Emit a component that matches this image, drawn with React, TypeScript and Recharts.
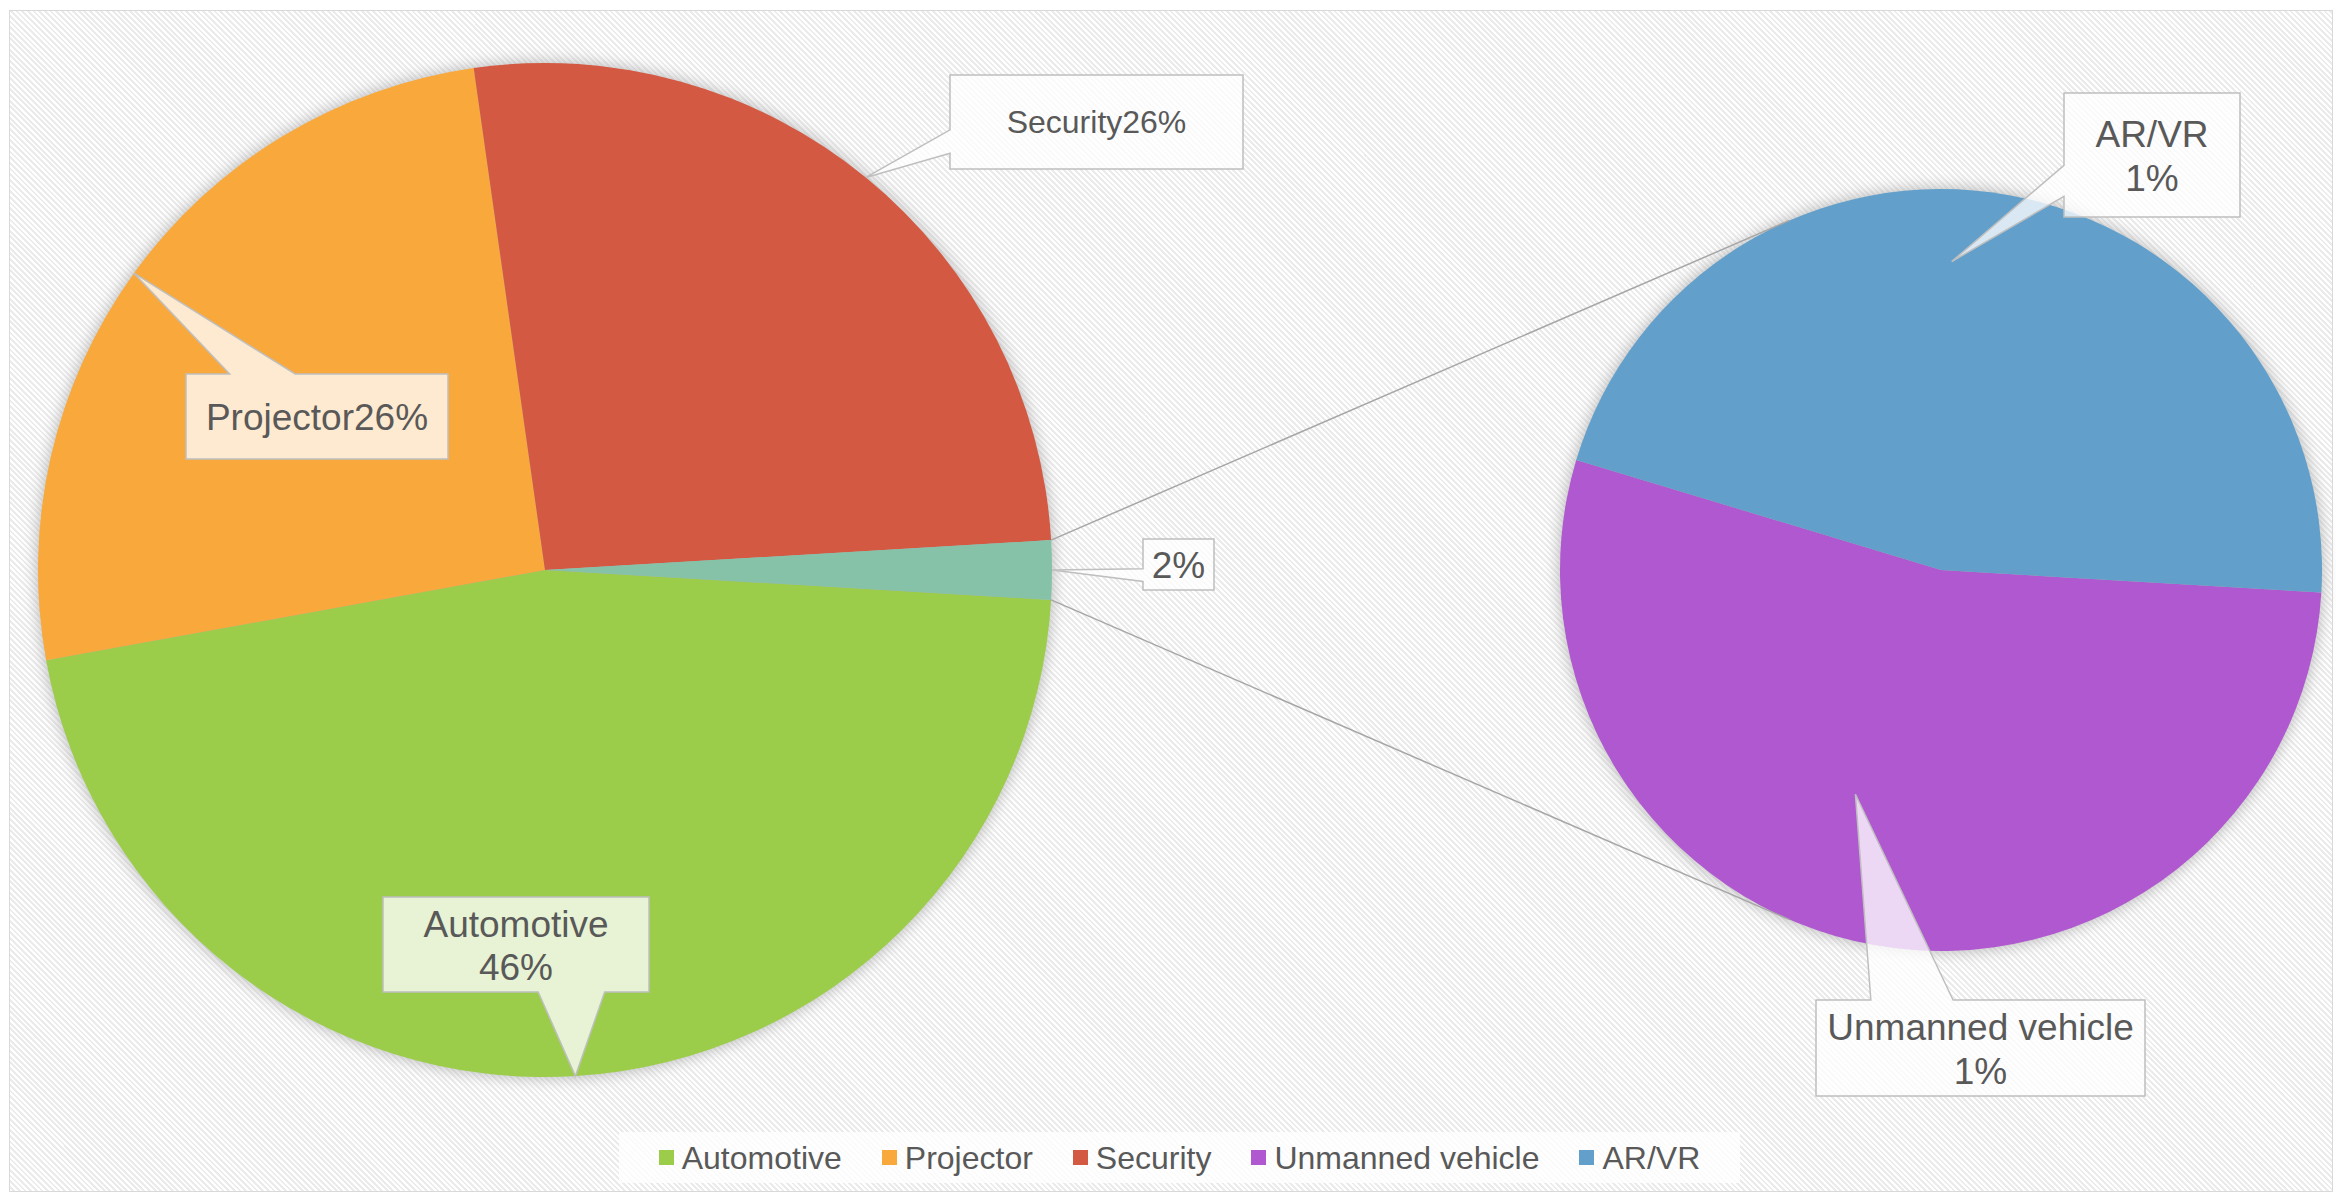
import React from 'react';
import { PieChart, Pie, Cell, Legend } from 'recharts';

// market share by application (percent of total)
const categories = ['Automotive', 'Projector', 'Security', 'Unmanned vehicle', 'AR/VR'];
const shares = [46.2, 25.6, 26.3, 1.01, 0.87];

// the first pie keeps these, the rest are broken out into the second pie
const mainNames = ['Automotive', 'Projector', 'Security'];
const breakoutNames = ['Unmanned vehicle', 'AR/VR'];
const otherName = 'Other';

const COLORS: Record<string, string> = {
  Automotive: '#9bcd4b',
  Projector: '#f9a83c',
  Security: '#d35942',
  Other: '#86c2a8',
  'Unmanned vehicle': '#b058d0',
  'AR/VR': '#62a0cb',
};

const TEXT = '#595959';
const W = 2336;
const H = 1194;

// pie geometry (px inside the svg)
const MAIN = { cx: 545, cy: 570, r: 507 };
const SIDE = { cx: 1941, cy: 570, r: 381 };

// callout boxes, offset from the pie centre
type Box = { dx: number; dy: number; w: number; h: number; size: number; mode: 'inline' | 'stacked' | 'value'; tipR?: number; tipShift?: number };
const LABEL_BOX: Record<string, Box> = {
  Automotive: { dx: -162, dy: 327, w: 266, h: 95, size: 37, mode: 'stacked' },
  Projector: { dx: -359, dy: -196, w: 262, h: 85, size: 37, mode: 'inline' },
  Security: { dx: 405, dy: -495, w: 293, h: 94, size: 32, mode: 'inline' },
  Other: { dx: 598, dy: -31, w: 71, h: 51, size: 37, mode: 'value' },
  'Unmanned vehicle': { dx: -125, dy: 430, w: 329, h: 96, size: 37, mode: 'stacked', tipR: 0.63, tipShift: -10.8 },
  'AR/VR': { dx: 123, dy: -477, w: 176, h: 124, size: 37, mode: 'stacked', tipR: 0.81, tipShift: 8.1 },
};

const valueOf = (n: string) => shares[categories.indexOf(n)];
const grandTotal = shares.reduce((a, b) => a + b, 0);
const otherValue = breakoutNames.reduce((s, n) => s + valueOf(n), 0);

const mainData = [
  ...mainNames.map((n) => ({ name: n, value: valueOf(n), fill: COLORS[n] })),
  { name: otherName, value: otherValue, fill: COLORS.Other },
];
const breakoutData = breakoutNames.map((n) => ({ name: n, value: valueOf(n), fill: COLORS[n] }));

// the breakout slice sits centred on 3 o'clock, slices run clockwise
const startAngle = -((otherValue / grandTotal) * 360) / 2;

const RAD = Math.PI / 180;
const polar = (cx: number, cy: number, r: number, deg: number) => ({
  x: cx + r * Math.cos(-deg * RAD),
  y: cy + r * Math.sin(-deg * RAD),
});

// excel style wedgeRectCallout outline
function calloutPath(l: number, t: number, w: number, h: number, px: number, py: number) {
  const r = l + w;
  const b = t + h;
  const dx = px - (l + w / 2);
  const dy = py - (t + h / 2);
  const dz = Math.abs(dy) - Math.abs((dx * h) / w);
  if (dz > 0) {
    const x1 = l + (w * (dx > 0 ? 7 : 2)) / 12;
    const x2 = l + (w * (dx > 0 ? 10 : 5)) / 12;
    if (dy < 0) return `M${l},${t}L${x1},${t}L${px},${py}L${x2},${t}L${r},${t}L${r},${b}L${l},${b}Z`;
    return `M${l},${t}L${r},${t}L${r},${b}L${x2},${b}L${px},${py}L${x1},${b}L${l},${b}Z`;
  }
  const y1 = t + (h * (dy > 0 ? 7 : 2)) / 12;
  const y2 = t + (h * (dy > 0 ? 10 : 5)) / 12;
  if (dx < 0) return `M${l},${t}L${r},${t}L${r},${b}L${l},${b}L${l},${y2}L${px},${py}L${l},${y1}Z`;
  return `M${l},${t}L${r},${t}L${r},${y1}L${px},${py}L${r},${y2}L${r},${b}L${l},${b}Z`;
}

// tangent points from a point to the second pie
function tangents(px: number, py: number) {
  const d = Math.hypot(px - SIDE.cx, py - SIDE.cy);
  const phi = Math.atan2(py - SIDE.cy, px - SIDE.cx);
  const a = Math.acos(SIDE.r / d);
  return [phi + a, phi - a].map((ang) => ({ x: SIDE.cx + SIDE.r * Math.cos(ang), y: SIDE.cy + SIDE.r * Math.sin(ang) }));
}

function renderCallout(props: any) {
  const { cx, cy, outerRadius, midAngle, startAngle: sa, endAngle: ea, value } = props;
  const name = props.name ?? props.payload?.name;
  const cfg = LABEL_BOX[name];
  if (!cfg) return null;
  const tip = polar(cx, cy, outerRadius * (cfg.tipR ?? 1), midAngle + (cfg.tipShift ?? 0));
  const l = cx + cfg.dx;
  const t = cy + cfg.dy;
  const pct = `${Math.round((value / grandTotal) * 100)}%`;
  const mx = l + cfg.w / 2;
  const my = t + cfg.h / 2;
  const lh = 43.5;

  let lines: React.ReactNode;
  if (cfg.mode === 'stacked') {
    lines = (
      <>
        <tspan x={mx} y={my - lh / 2 + 1}>{name}</tspan>
        <tspan x={mx} y={my + lh / 2 + 1}>{pct}</tspan>
      </>
    );
  } else {
    lines = <tspan x={mx} y={my}>{cfg.mode === 'value' ? pct : `${name}${pct}`}</tspan>;
  }

  let connectors: React.ReactNode = null;
  if (name === otherName) {
    const p1 = polar(cx, cy, outerRadius, sa);
    const p2 = polar(cx, cy, outerRadius, ea);
    const [top, bottom] = p1.y < p2.y ? [p1, p2] : [p2, p1];
    const tTop = tangents(top.x, top.y).sort((a, b) => a.y - b.y)[0];
    const tBot = tangents(bottom.x, bottom.y).sort((a, b) => b.y - a.y)[0];
    connectors = (
      <g stroke="#a6a6a6" strokeWidth={1.5}>
        <line x1={top.x} y1={top.y} x2={tTop.x} y2={tTop.y} />
        <line x1={bottom.x} y1={bottom.y} x2={tBot.x} y2={tBot.y} />
      </g>
    );
  }

  return (
    <g>
      {connectors}
      <path d={calloutPath(l, t, cfg.w, cfg.h, tip.x, tip.y)} fill="rgba(255,255,255,0.76)" stroke="#bfbfbf" strokeWidth={1.5} />
      <text textAnchor="middle" dominantBaseline="central" fill={TEXT} fontSize={cfg.size}>
        {lines}
      </text>
    </g>
  );
}

function renderLegend(props: any) {
  const items = (props.payload || [])
    .filter((p: any) => categories.includes(p.value))
    .sort((a: any, b: any) => categories.indexOf(a.value) - categories.indexOf(b.value));
  return (
    <div
      style={{
        display: 'flex',
        justifyContent: 'center',
        alignItems: 'center',
        height: '100%',
        background: 'rgba(255,255,255,0.8)',
      }}
    >
      {items.map((p: any, i: number) => (
        <div key={p.value} style={{ display: 'flex', alignItems: 'center', marginLeft: i ? 40 : 0 }}>
          <span style={{ display: 'inline-block', width: 15, height: 15, background: p.color, marginRight: 8 }} />
          <span style={{ fontSize: 32, color: TEXT, lineHeight: '36px' }}>{p.value}</span>
        </div>
      ))}
    </div>
  );
}

export default function App() {
  return (
    <div
      style={{
        position: 'absolute',
        left: 0,
        top: 0,
        width: W,
        height: H,
        background: '#fff',
        fontFamily: '"Liberation Sans", Arial, sans-serif',
        overflow: 'hidden',
      }}
    >
      <svg width={0} height={0} style={{ position: 'absolute' }}>
        <defs>
          <filter id="pieGlow" x="-20%" y="-20%" width="140%" height="140%">
            <feGaussianBlur stdDeviation="8" />
          </filter>
        </defs>
      </svg>
      <div
        style={{
          position: 'absolute',
          left: 9,
          top: 10,
          width: 2324,
          height: 1182,
          boxSizing: 'border-box',
          border: '1.5px solid #d9d9d9',
          background: 'repeating-linear-gradient(45deg, #ffffff 0px, #ffffff 2px, #ebebeb 2px, #ebebeb 4px)',
        }}
      />
      <div style={{ position: 'absolute', left: 0, top: 0 }}>
        <PieChart width={W} height={H} margin={{ top: 0, right: 0, bottom: 0, left: 0 }}>
          <Pie
            data={[{ name: 'glow-main', value: 1 }]}
            dataKey="value"
            cx={MAIN.cx}
            cy={MAIN.cy}
            outerRadius={MAIN.r}
            stroke="none"
            legendType="none"
            isAnimationActive={false}
          >
            <Cell fill="#b0b0b0" filter="url(#pieGlow)" />
          </Pie>
          <Pie
            data={[{ name: 'glow-side', value: 1 }]}
            dataKey="value"
            cx={SIDE.cx}
            cy={SIDE.cy}
            outerRadius={SIDE.r}
            stroke="none"
            legendType="none"
            isAnimationActive={false}
          >
            <Cell fill="#b0b0b0" filter="url(#pieGlow)" />
          </Pie>
          <Pie
            data={mainData}
            dataKey="value"
            nameKey="name"
            cx={MAIN.cx}
            cy={MAIN.cy}
            outerRadius={MAIN.r}
            startAngle={startAngle}
            endAngle={startAngle - 360}
            stroke="none"
            label={renderCallout}
            labelLine={false}
            isAnimationActive={false}
          >
            {mainData.map((d) => (
              <Cell key={d.name} fill={d.fill} />
            ))}
          </Pie>
          <Pie
            data={breakoutData}
            dataKey="value"
            nameKey="name"
            cx={SIDE.cx}
            cy={SIDE.cy}
            outerRadius={SIDE.r}
            startAngle={startAngle}
            endAngle={startAngle - 360}
            stroke="none"
            label={renderCallout}
            labelLine={false}
            isAnimationActive={false}
          >
            {breakoutData.map((d) => (
              <Cell key={d.name} fill={d.fill} />
            ))}
          </Pie>
          <Legend
            content={renderLegend}
            wrapperStyle={{ position: 'absolute', left: 619, top: 1132, width: 1121, height: 51, bottom: 'auto' }}
          />
        </PieChart>
      </div>
    </div>
  );
}
